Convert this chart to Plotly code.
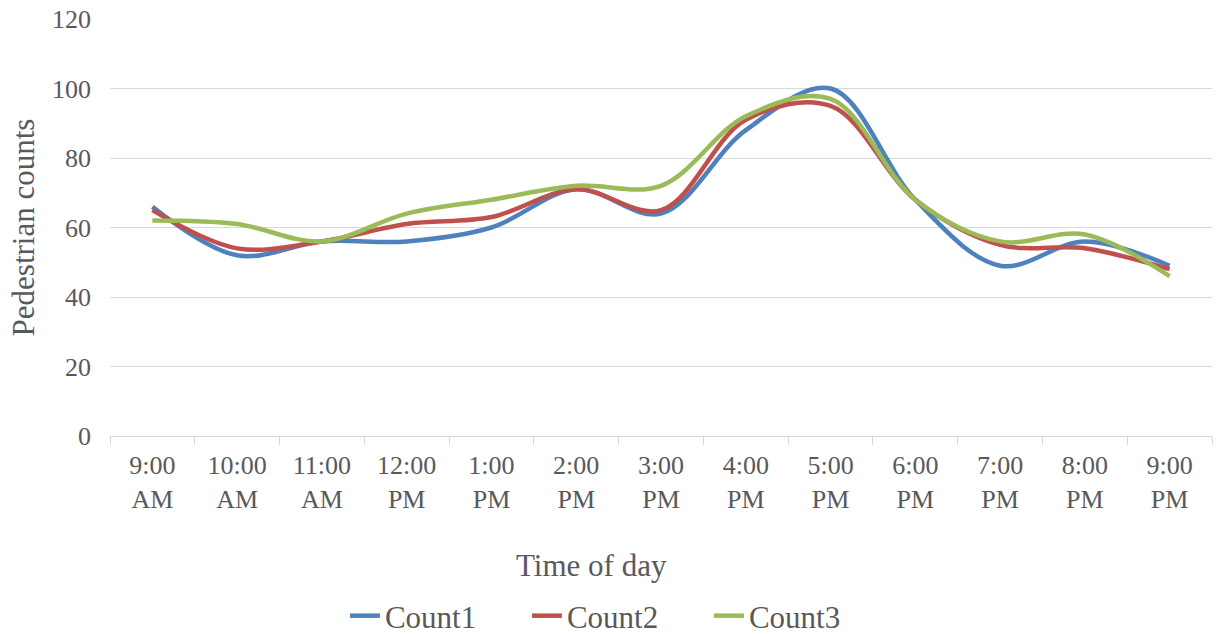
import plotly.graph_objects as go

times = ["9:00<br>AM", "10:00<br>AM", "11:00<br>AM", "12:00<br>PM", "1:00<br>PM", "2:00<br>PM",
         "3:00<br>PM", "4:00<br>PM", "5:00<br>PM", "6:00<br>PM", "7:00<br>PM", "8:00<br>PM", "9:00<br>PM"]
count1 = [66, 52, 56, 56, 60, 71, 64, 88, 100, 68, 49, 56, 49]
count2 = [65, 54, 56, 61, 63, 71, 65, 91, 95, 68, 55, 54, 48]
count3 = [62, 61, 56, 64, 68, 72, 72, 92, 97, 68, 56, 58, 46]
yticks = [0, 20, 40, 60, 80, 100, 120]

FONT = "Liberation Serif, Times New Roman, serif"
GREY = "#595959"
fig = go.Figure()
for name, vals, col in [("Count1", count1, "#4F81BD"), ("Count2", count2, "#C0504D"), ("Count3", count3, "#9BBB59")]:
    fig.add_trace(go.Scatter(x=times, y=vals, name=name, mode="lines",
                             line=dict(color=col, width=4.5, shape="spline", smoothing=1)))

fig.update_layout(
    width=1219, height=634, margin=dict(l=110, r=7, t=19, b=198, autoexpand=False),
    paper_bgcolor="white", plot_bgcolor="white",
    font=dict(family=FONT, size=26, color=GREY),
    showlegend=True,
    legend=dict(orientation="h", x=0.2132, xanchor="left", y=-0.4317, yanchor="middle",
                font=dict(family=FONT, size=31, color=GREY), entrywidth=137, entrywidthmode="pixels",
                tracegroupgap=0),
    xaxis=dict(type="category", range=[-0.5, 12.5], tickson="boundaries", ticks="outside", ticklen=8,
               tickcolor="#d9d9d9", showgrid=False, showline=True, linecolor="#d9d9d9", linewidth=1,
               ticklabelstandoff=6, automargin=False,
               tickfont=dict(size=26, color=GREY)),
    yaxis=dict(range=[0, 120], tickvals=yticks, showgrid=True, gridcolor="#d9d9d9", gridwidth=1,
               zeroline=False, showline=False, ticks="", ticklabelstandoff=18, automargin=False,
               tickfont=dict(size=26, color=GREY),
               title=dict(text="Pedestrian counts", font=dict(size=31, color=GREY), standoff=8)),
    annotations=[dict(text="Time of day", xref="paper", yref="paper", x=(591 - 110) / 1102, y=(436 - 565) / 417,
                      xanchor="center", yanchor="middle", showarrow=False,
                      font=dict(family=FONT, size=31, color=GREY))],
)
fig.write_html("out.html")
